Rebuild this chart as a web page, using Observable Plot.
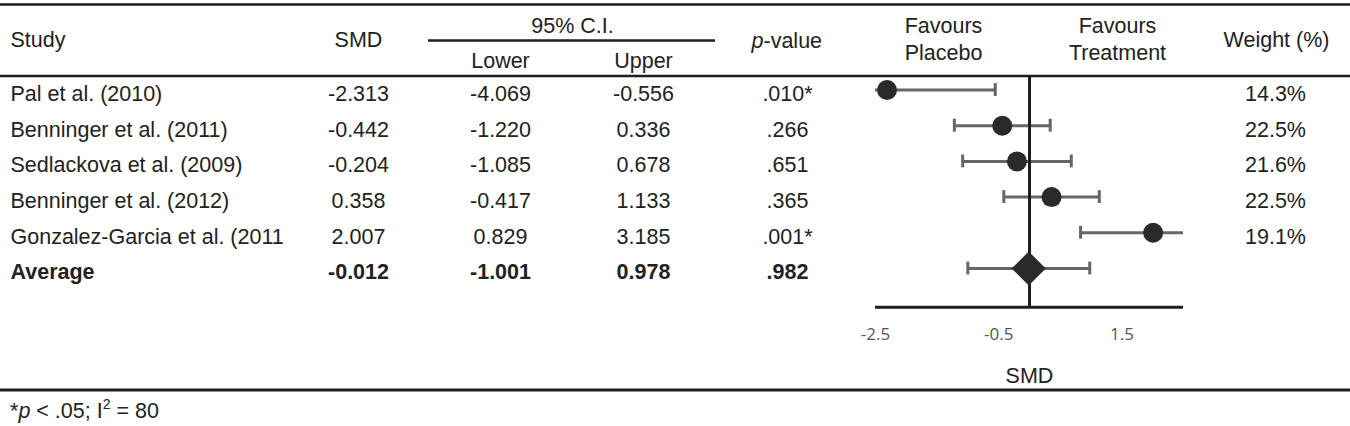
<!DOCTYPE html>
<html>
<head>
<meta charset="utf-8">
<script src="https://cdn.jsdelivr.net/npm/d3@7"></script>
<script src="https://cdn.jsdelivr.net/npm/@observablehq/plot@0.6"></script>
<style>
  html, body { margin: 0; padding: 0; background: #fff; }
  #chart { width: 1350px; }
  #note {
    font-family: "Liberation Sans", Arial, sans-serif;
    font-size: 21.5px; color: #222; line-height: 26px;
    margin: 3px 0 0 10px;
  }
  #note sup { font-size: 14px; vertical-align: 9px; line-height: 0; }
</style>
</head>
<body>
<div id="chart"></div>
<div id="note">*<i>p</i> &lt; .05; I<sup>2</sup> = 80</div>
<script>
// ---- data ----
const studies = [
  "Pal et al. (2010)",
  "Benninger et al. (2011)",
  "Sedlackova et al. (2009)",
  "Benninger et al. (2012)",
  "Gonzalez-Garcia et al. (2011",
  "Average"
];
const smdValues = [-2.313, -0.442, -0.204, 0.358, 2.007, -0.012];
const lowerCI   = [-4.069, -1.220, -1.085, -0.417, 0.829, -1.001];
const upperCI   = [-0.556, 0.336, 0.678, 1.133, 3.185, 0.978];
const pValues   = [".010*", ".266", ".651", ".365", ".001*", ".982"];
const weights   = [14.3, 22.5, 21.6, 22.5, 19.1, null];
const tickValues = [-2.5, -0.5, 1.5];
const tickLabels = ["-2.5", "-0.5", "1.5"];
const xDomain = [-2.5, 2.5];

// ---- build table ----
const data = studies.map((study, i) => ({
  i, study, smd: smdValues[i], lower: lowerCI[i], upper: upperCI[i],
  p: pValues[i], weight: weights[i]
}));
const avgIdx = studies.indexOf("Average");
const isAvg = d => d.i === avgIdx;
const ticks = tickValues.map((v, k) => ({v, label: tickLabels[k]}));

// ---- layout ----
const W = 1350, H = 395;
const Y0 = 89.5, DY = 35.7;               // row centre spacing (pixels)
const row = px => (px - Y0) / DY;          // pixel -> row units
const TEXT = "#222", LINE = "#1e1e1e", BAR = "#666", DOT = "#2a2a2a";
const FS = 21.5;

function column(text, dx, textAnchor) {
  const base = {y: "i", text, frameAnchor: "left", dx, dy: 4, textAnchor, fontSize: FS, fill: TEXT};
  return [
    Plot.text(data, {...base, filter: d => !isAvg(d) && text(d) != null}),
    Plot.text(data, {...base, filter: d => isAvg(d) && text(d) != null, fontWeight: "bold"})
  ];
}
function label(str, cx, cy, opts = {}) {
  return Plot.text([str], {y: () => row(cy), text: d => d, frameAnchor: "left", dx: cx,
    textAnchor: "middle", fontSize: FS, fill: TEXT, ...opts});
}
const fmt3 = v => v.toFixed(3);

const chart = Plot.plot({
  width: W, height: H,
  marginTop: 0, marginRight: 0, marginBottom: 0, marginLeft: 0,
  style: {fontFamily: '"Liberation Sans", Arial, sans-serif', fontSize: FS + "px", color: TEXT, background: "#fff", overflow: "visible"},
  x: {domain: xDomain, range: [875, 1183], clamp: true, axis: null},
  y: {domain: [0, studies.length - 1], range: [Y0, Y0 + DY * (studies.length - 1)], axis: null},
  marks: [
    // table rules
    Plot.ruleY([row(4)], {stroke: LINE, strokeWidth: 2.5}),
    Plot.ruleY([row(75.5)], {stroke: LINE, strokeWidth: 2.5}),
    Plot.ruleY([row(389.5)], {stroke: LINE, strokeWidth: 3}),
    Plot.ruleY([row(40)], {stroke: LINE, strokeWidth: 2.5, insetLeft: 428, insetRight: W - 715}),

    // header
    label("Study", 10, 40, {textAnchor: "start"}),
    label("SMD", 358, 40),
    label("95% C.I.", 572, 26),
    label("Lower", 500, 61),
    label("Upper", 643, 61),
    label("p", 763, 41, {textAnchor: "end", fontStyle: "italic"}),
    label("-value", 763, 41, {textAnchor: "start"}),
    label("Favours", 943, 26),
    label("Placebo", 943, 52.5),
    label("Favours", 1117, 26),
    label("Treatment", 1117, 52.5),
    label("Weight (%)", 1276, 40),

    // table body
    ...column(d => d.study, 10, "start"),
    ...column(d => fmt3(d.smd), 358, "middle"),
    ...column(d => fmt3(d.lower), 500, "middle"),
    ...column(d => fmt3(d.upper), 643, "middle"),
    ...column(d => d.p, 787, "middle"),
    ...column(d => d.weight == null ? null : d.weight.toFixed(1) + "%", 1275, "middle"),

    // forest plot: error bars
    Plot.ruleY(data, {y: "i", x1: "lower", x2: "upper", stroke: BAR, strokeWidth: 3}),
    Plot.ruleX(data, {filter: d => d.lower >= xDomain[0], x: "lower", y1: d => d.i - 0.18, y2: d => d.i + 0.18, stroke: BAR, strokeWidth: 3}),
    Plot.ruleX(data, {filter: d => d.upper <= xDomain[1], x: "upper", y1: d => d.i - 0.18, y2: d => d.i + 0.18, stroke: BAR, strokeWidth: 3}),

    // zero line and axis line
    Plot.ruleX([0], {y1: () => row(75.5), y2: () => row(306.7), stroke: LINE, strokeWidth: 3}),
    Plot.ruleY([row(306.7)], {x1: xDomain[0], x2: xDomain[1], stroke: LINE, strokeWidth: 3}),

    // point estimates
    Plot.dot(data, {filter: d => !isAvg(d), x: "smd", y: "i", r: 10, fill: DOT, stroke: "none"}),
    Plot.dot(data, {filter: isAvg, x: "smd", y: "i", r: 15.3, symbol: "diamond2", fill: DOT, stroke: "none"}),

    // axis tick labels and title
    Plot.text(ticks, {x: "v", y: () => row(334), text: "label", fontFamily: '"Open Sans", sans-serif', fontSize: 17, fill: "#555"}),
    Plot.text(["SMD"], {x: () => 0, y: () => row(376), text: d => d, fontSize: FS, fill: TEXT})
  ]
});
document.getElementById("chart").appendChild(chart);
</script>
</body>
</html>
